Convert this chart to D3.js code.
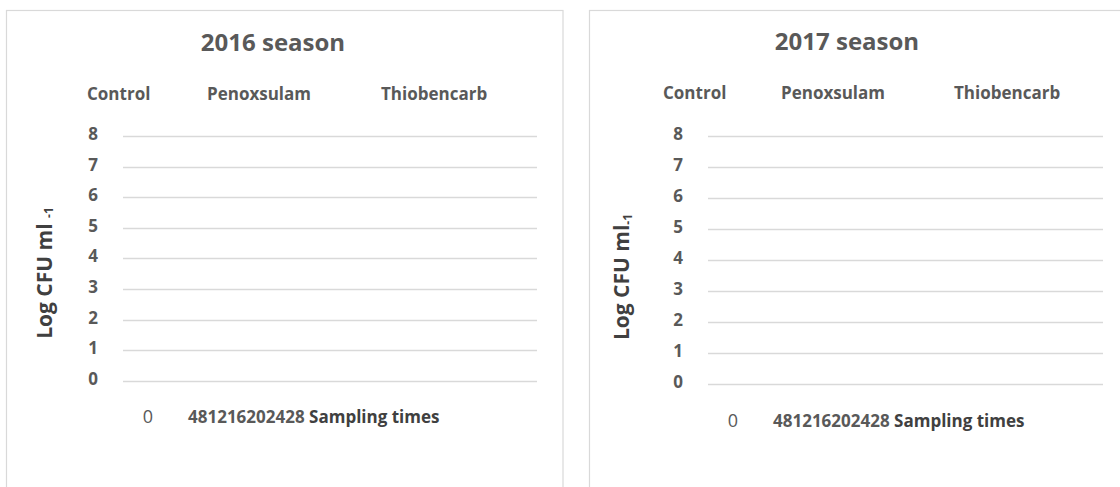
<!DOCTYPE html>
<html>
<head>
<meta charset="utf-8">
<script src="https://cdn.jsdelivr.net/npm/d3@7"></script>
<style>
  body { margin: 0; background: #fff; }
  svg { display: block; font-family: "Open Sans", sans-serif; }
</style>
</head>
<body>
<svg id="chart" width="1120" height="487"></svg>
<script>
// chart data
const seasons = ["2016 season", "2017 season"];
const seriesNames = ["Control", "Penoxsulam", "Thiobencarb"];
const samplingTimes = [0, 4, 8, 12, 16, 20, 24, 28];
const yTicks = [0, 1, 2, 3, 4, 5, 6, 7, 8];
const yLabels = ["Log CFU ml ", "Log CFU ml"];
const xTitle = "Sampling times";

// layout for each panel
const panels = [
    {box: [6.5, 10.5, 556.5], titleX: 273, titleY: 51, legendX: [87, 207, 381], legendY: 100,
     plotX: [123, 537], plotY: [380.7, 136], yLabX: 52, yLabY: 273, xLabY: 423},
    {box: [589.5, 10.5, 560], titleX: 847, titleY: 50, legendX: [663, 781, 954], legendY: 99,
     plotX: [708, 1103], plotY: [384, 135.7], yLabX: 629, yLabY: 277, xLabY: 427}
];

const svg = d3.select("#chart");
const grey = "#595959";

panels.forEach((p, k) => {
    let g = svg.append("g");

    // chart area border
    g.append("rect")
        .attr("x", p.box[0]).attr("y", p.box[1])
        .attr("width", p.box[2]).attr("height", 520)
        .attr("fill", "#fff").attr("stroke", "#d9d9d9").attr("stroke-width", 1.2);

    g.append("text")
        .attr("x", p.titleX).attr("y", p.titleY)
        .attr("text-anchor", "middle")
        .attr("font-size", 24).attr("font-weight", 700).attr("fill", grey)
        .text(seasons[k]);

    // legend, no visible symbols
    g.selectAll(".leg").data(seriesNames).enter().append("text")
        .attr("x", (d, i) => p.legendX[i]).attr("y", p.legendY)
        .attr("font-size", 17).attr("font-weight", 700).attr("fill", grey)
        .text(d => d);

    let y = d3.scaleLinear().domain([0, 8]).range(p.plotY);

    // gridlines
    g.selectAll(".grid").data(yTicks).enter().append("line")
        .attr("x1", p.plotX[0]).attr("x2", p.plotX[1])
        .attr("y1", d => Math.round(y(d)) + 0.5).attr("y2", d => Math.round(y(d)) + 0.5)
        .attr("stroke", "#d9d9d9").attr("stroke-width", 1.4);

    // y tick labels
    g.selectAll(".ytick").data(yTicks).enter().append("text")
        .attr("x", p.plotX[0] - 30).attr("y", d => y(d) + 4)
        .attr("text-anchor", "middle")
        .attr("font-size", 17).attr("font-weight", 700).attr("fill", grey)
        .text(d => d);

    // y axis title
    let yl = g.append("text")
        .attr("transform", `translate(${p.yLabX},${p.yLabY}) rotate(-90)`)
        .attr("text-anchor", "middle")
        .attr("font-size", 21).attr("font-weight", 700).attr("fill", "#404040");
    yl.append("tspan").text(yLabels[k]);
    yl.append("tspan").attr("font-size", 12).attr("dy", k === 0 ? 1 : 3).text("-1");

    // x tick labels (squeezed together as in the original)
    g.append("text")
        .attr("x", p.plotX[0] + 25).attr("y", p.xLabY)
        .attr("text-anchor", "middle")
        .attr("font-size", 18).attr("fill", grey)
        .text(samplingTimes[0]);

    let xl = g.append("text")
        .attr("x", p.plotX[0] + 65).attr("y", p.xLabY)
        .attr("font-size", 17).attr("font-weight", 700);
    xl.append("tspan").attr("fill", grey).text(samplingTimes.slice(1).join(""));
    xl.append("tspan").attr("fill", "#404040").text(" " + xTitle);
});
</script>
</body>
</html>
